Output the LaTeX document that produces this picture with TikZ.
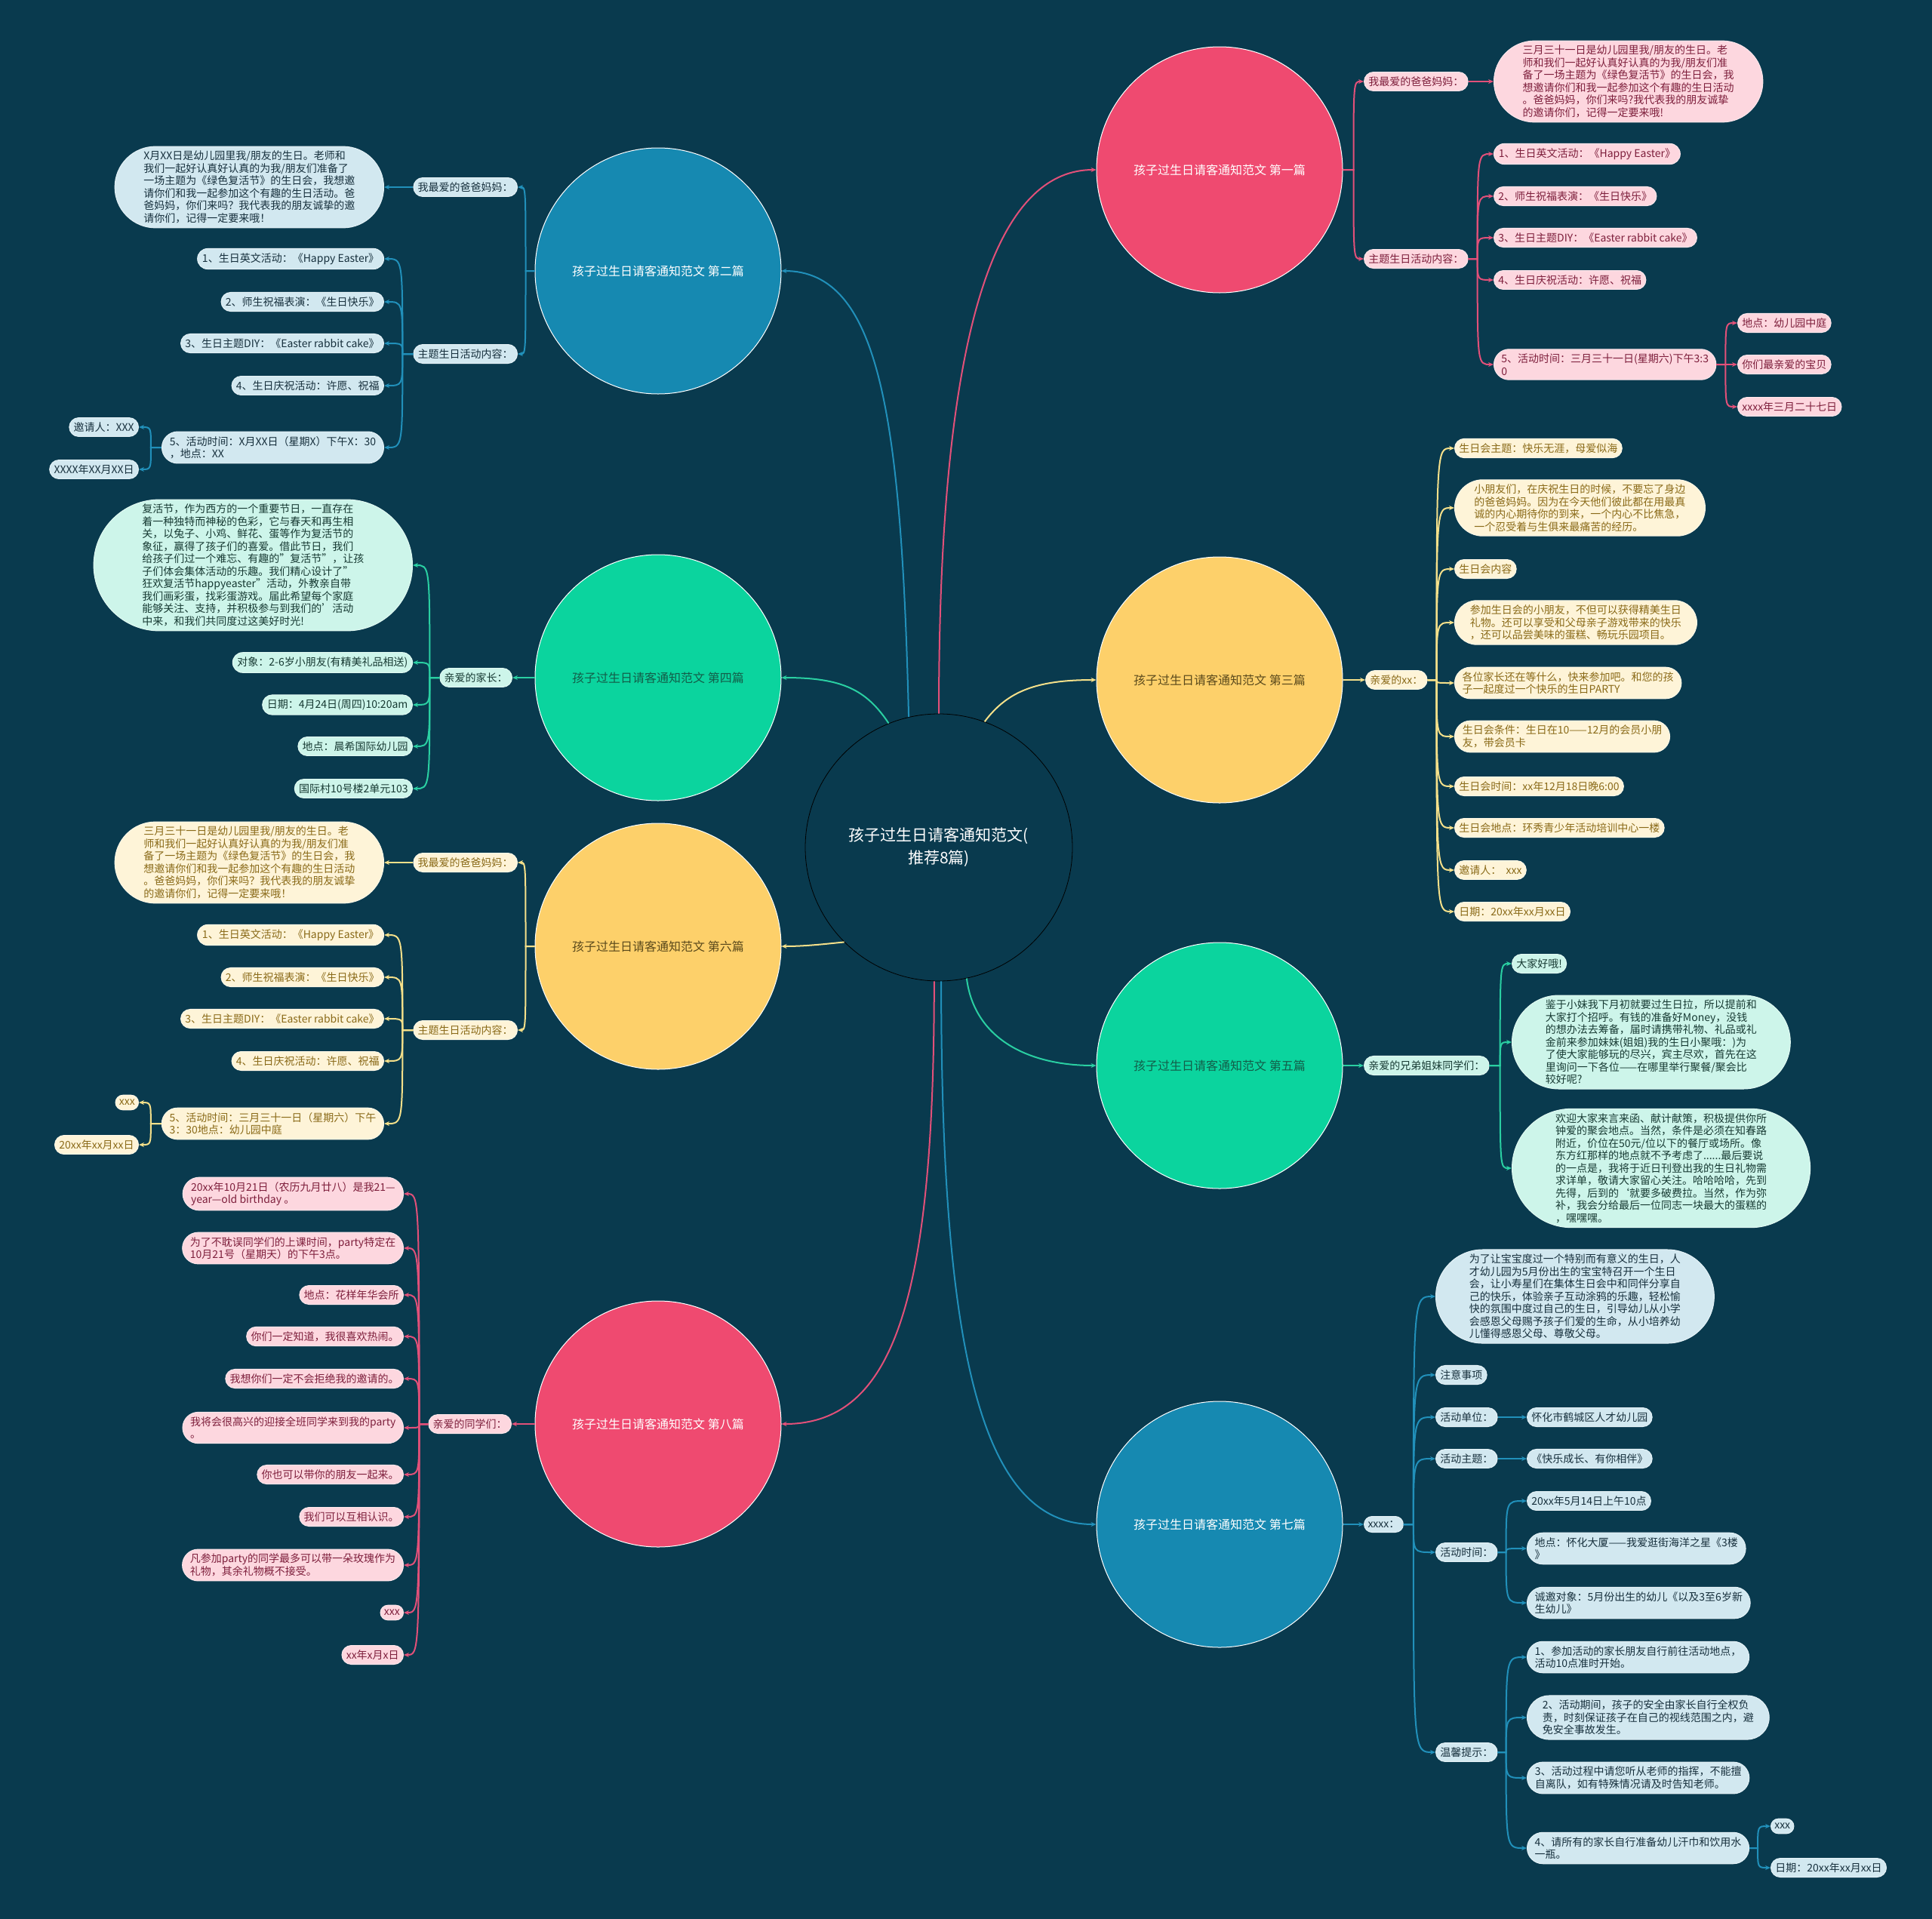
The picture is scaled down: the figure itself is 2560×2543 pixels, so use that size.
\documentclass[tikz,border=0pt]{standalone}
\usepackage{fontspec}
\setmainfont{Noto Sans CJK SC}
\usetikzlibrary{shapes.misc,arrows.meta}
\definecolor{bg}{HTML}{093A4E}
\definecolor{redcirc}{HTML}{EF4A70}
\definecolor{redfill}{HTML}{FDD7DF}
\definecolor{redtext}{HTML}{7E1F3C}
\definecolor{redline}{HTML}{E25079}
\definecolor{blucirc}{HTML}{1689B1}
\definecolor{blufill}{HTML}{D2E8F0}
\definecolor{blutext}{HTML}{17303D}
\definecolor{bluline}{HTML}{2190BA}
\definecolor{yelcirc}{HTML}{FDD06A}
\definecolor{yelfill}{HTML}{FEF4D8}
\definecolor{yeltext}{HTML}{8A6A18}
\definecolor{yelline}{HTML}{F5E08A}
\definecolor{yelctext}{HTML}{5B4A1C}
\definecolor{grncirc}{HTML}{0BD49E}
\definecolor{grnfill}{HTML}{CDF5EA}
\definecolor{grntext}{HTML}{173A33}
\definecolor{grnline}{HTML}{2ACFA2}
\definecolor{grnctext}{HTML}{135E49}
\newcommand\bxf{\fontsize{14}{16.5}\selectfont}
\newcommand\cxf{\fontsize{16}{19}\selectfont}
\newcommand\rxf{\fontsize{21}{30}\selectfont}
\newcommand\fan[4]{\foreach \tg in {#4}{\draw[#1] (#2) -- (#3) .. controls (#3 |- \tg) .. (\tg);}}
\tikzset{
  >={Stealth[length=7pt,width=6pt]},
  box/.style={rounded rectangle, inner xsep=4pt, inner ysep=6pt, font=\bxf, align=left, line width=1pt},
  wide/.style={inner xsep=9pt},
  redbx/.style={box, fill=redfill, draw=redfill!60!white, text=redtext},
  blubx/.style={box, fill=blufill, draw=blufill!60!white, text=blutext},
  yelbx/.style={box, fill=yelfill, draw=yelfill!60!white, text=yeltext},
  grnbx/.style={box, fill=grnfill, draw=grnfill!60!white, text=grntext},
  bcirc/.style={circle, minimum size=326pt, inner sep=0pt, draw=white, line width=1pt, font=\cxf},
  redc/.style={bcirc, fill=redcirc, text=white},
  bluc/.style={bcirc, fill=blucirc, text=white},
  yelc/.style={bcirc, fill=yelcirc, text=yelctext},
  grnc/.style={bcirc, fill=grncirc, text=grnctext},
  rootc/.style={circle, minimum size=354pt, inner sep=0pt, draw=black, line width=0.8pt, fill=bg, text=white, font=\rxf, align=center},
  redln/.style={draw=redline, line width=2pt, ->},
  bluln/.style={draw=bluline, line width=2pt, ->},
  yelln/.style={draw=yelline, line width=2pt, ->},
  grnln/.style={draw=grnline, line width=2pt, ->},
}
\begin{document}
\begin{tikzpicture}[x=1pt,y=-1pt]
\fill[bg] (0,0) rectangle (2560,2543);
\useasboundingbox (0,0) rectangle (2560,2543);

% root and main circles
\node[rootc] (root) at (1244,1123) {孩子过生日请客通知范文(\\推荐8篇)};
\node[redc] (b1) at (1616,225) {孩子过生日请客通知范文 第一篇};
\node[bluc] (b2) at (872,359) {孩子过生日请客通知范文 第二篇};
\node[yelc] (b3) at (1616,901) {孩子过生日请客通知范文 第三篇};
\node[grnc] (b4) at (872,898) {孩子过生日请客通知范文 第四篇};
\node[grnc] (b5) at (1616,1412) {孩子过生日请客通知范文 第五篇};
\node[yelc] (b6) at (872,1254) {孩子过生日请客通知范文 第六篇};
\node[bluc] (b7) at (1616,2020) {孩子过生日请客通知范文 第七篇};
\node[redc] (b8) at (872,1887) {孩子过生日请客通知范文 第八篇};

\draw[redln] (root.90) .. controls +(0,-450) and +(-150,0) .. (b1.west);
\draw[bluln] (root.103) .. controls +(-10,-400) and +(130,0) .. (b2.east);
\draw[grnln] (root.112) .. controls +(-30,-45) and +(80,0) .. (b4.east);
\draw[yelln] (root.70) .. controls +(30,-40) and +(-80,0) .. (b3.west);
\draw[yelln] (root.225) .. controls +(-30,3) and +(30,0) .. (b6.east);
\draw[grnln] (root.282) .. controls +(10,80) and +(-90,0) .. (b5.west);
\draw[bluln] (root.271) .. controls +(0,500) and +(-150,0) .. (b7.west);
\draw[redln] (root.268) .. controls +(0,420) and +(150,0) .. (b8.east);

% ---------- Branch 1 ----------
\node[redbx,anchor=west] (n1a) at (1807,108) {我最爱的爸爸妈妈：};
\node[redbx,wide,anchor=west] (t1) at (1979,108) {三月三十一日是幼儿园里我/朋友的生日。老\\师和我们一起好认真好认真的为我/朋友们准\\备了一场主题为《绿色复活节》的生日会，我\\想邀请你们和我一起参加这个有趣的生日活动\\。爸爸妈妈，你们来吗?我代表我的朋友诚挚\\的邀请你们，记得一定要来哦!};
\node[redbx,anchor=west] (n1b) at (1807,343) {主题生日活动内容：};
\node[redbx,anchor=west] (n1b1) at (1979,204) {1、生日英文活动：《Happy Easter》};
\node[redbx,anchor=west] (n1b2) at (1979,260) {2、师生祝福表演：《生日快乐》};
\node[redbx,anchor=west] (n1b3) at (1979,315) {3、生日主题DIY：《Easter rabbit cake》};
\node[redbx,anchor=west] (n1b4) at (1979,371) {4、生日庆祝活动：许愿、祝福};
\node[redbx,anchor=west] (n1b5) at (1979,483) {5、活动时间：三月三十一日(星期六)下午3:3\\0};
\node[redbx,anchor=west] (n1c1) at (2302,428) {地点：幼儿园中庭};
\node[redbx,anchor=west] (n1c2) at (2302,483) {你们最亲爱的宝贝};
\node[redbx,anchor=west] (n1c3) at (2302,539) {xxxx年三月二十七日};
\path (b1.east) ++(14,0) coordinate (s1);
\fan{redln}{b1.east}{s1}{n1a.west,n1b.west}
\draw[redln] (n1a.east) -- (t1.west);
\path (n1b.east) ++(12,0) coordinate (s1b);
\fan{redln}{n1b.east}{s1b}{n1b1.west,n1b2.west,n1b3.west,n1b4.west,n1b5.west}
\path (n1b5.east) ++(12,0) coordinate (s1c);
\fan{redln}{n1b5.east}{s1c}{n1c1.west,n1c2.west,n1c3.west}

% ---------- Branch 2 ----------
\node[blubx,anchor=east] (n2a) at (686,248) {我最爱的爸爸妈妈：};
\node[blubx,wide,anchor=east] (t2) at (509,248) {X月XX日是幼儿园里我/朋友的生日。老师和\\我们一起好认真好认真的为我/朋友们准备了\\一场主题为《绿色复活节》的生日会，我想邀\\请你们和我一起参加这个有趣的生日活动。爸\\爸妈妈，你们来吗？我代表我的朋友诚挚的邀\\请你们，记得一定要来哦！};
\node[blubx,anchor=east] (n2b) at (686,469) {主题生日活动内容：};
\node[blubx,anchor=east] (n2b1) at (509,343) {1、生日英文活动：《Happy Easter》};
\node[blubx,anchor=east] (n2b2) at (509,400) {2、师生祝福表演：《生日快乐》};
\node[blubx,anchor=east] (n2b3) at (509,455) {3、生日主题DIY：《Easter rabbit cake》};
\node[blubx,anchor=east] (n2b4) at (509,511) {4、生日庆祝活动：许愿、祝福};
\node[blubx,anchor=east] (n2b5) at (509,593) {5、活动时间：X月XX日（星期X）下午X：30\\，地点：XX};
\node[blubx,anchor=east] (n2c1) at (184,566) {邀请人：XXX};
\node[blubx,anchor=east] (n2c2) at (184,622) {XXXX年XX月XX日};
\path (b2.west) ++(-12,0) coordinate (s2);
\fan{bluln}{b2.west}{s2}{n2a.east,n2b.east}
\draw[bluln] (n2a.west) -- (t2.east);
\path (n2b.west) ++(-14,0) coordinate (s2b);
\fan{bluln}{n2b.west}{s2b}{n2b1.east,n2b2.east,n2b3.east,n2b4.east,n2b5.east}
\path (n2b5.west) ++(-14,0) coordinate (s2c);
\fan{bluln}{n2b5.west}{s2c}{n2c1.east,n2c2.east}

% ---------- Branch 3 ----------
\node[yelbx,anchor=west] (n3) at (1809,901) {亲爱的xx：};
\node[yelbx,anchor=west] (n3a) at (1927,594) {生日会主题：快乐无涯，母爱似海};
\node[yelbx,wide,anchor=west] (n3b) at (1927,673) {小朋友们，在庆祝生日的时候，不要忘了身边\\的爸爸妈妈。因为在今天他们彼此都在用最真\\诚的内心期待你的到来，一个内心不比焦急，\\一个忍受着与生俱来最痛苦的经历。};
\node[yelbx,anchor=west] (n3c) at (1927,754) {生日会内容};
\node[yelbx,wide,anchor=west] (n3d) at (1927,825) {参加生日会的小朋友，不但可以获得精美生日\\礼物。还可以享受和父母亲子游戏带来的快乐\\，还可以品尝美味的蛋糕、畅玩乐园项目。};
\node[yelbx,anchor=west] (n3e) at (1927,905) {各位家长还在等什么，快来参加吧。和您的孩\\子一起度过一个快乐的生日PARTY};
\node[yelbx,anchor=west] (n3f) at (1927,976) {生日会条件：生日在10——12月的会员小朋\\友，带会员卡};
\node[yelbx,anchor=west] (n3g) at (1927,1042) {生日会时间：xx年12月18日晚6:00};
\node[yelbx,anchor=west] (n3h) at (1927,1097) {生日会地点：环秀青少年活动培训中心一楼};
\node[yelbx,anchor=west] (n3i) at (1927,1153) {邀请人：\ \ xxx};
\node[yelbx,anchor=west] (n3j) at (1927,1208) {日期：20xx年xx月xx日};
\draw[yelln] (b3.east) -- (n3.west);
\path (n3.east) ++(12,0) coordinate (s3);
\fan{yelln}{n3.east}{s3}{n3a.west,n3b.west,n3c.west,n3d.west,n3e.west,n3f.west,n3g.west,n3h.west,n3i.west,n3j.west}

% ---------- Branch 4 ----------
\node[grnbx,anchor=east] (n4) at (679,898) {亲爱的家长：};
\node[grnbx,wide,anchor=east] (t4) at (547,749) {复活节，作为西方的一个重要节日，一直存在\\着一种独特而神秘的色彩，它与春天和再生相\\关，以兔子、小鸡、鲜花、蛋等作为复活节的\\象征，赢得了孩子们的喜爱。借此节日，我们\\给孩子们过一个难忘、有趣的"复活节"，让孩\\子们体会集体活动的乐趣。我们精心设计了"\\狂欢复活节happyeaster"活动，外教亲自带\\我们画彩蛋，找彩蛋游戏。届此希望每个家庭\\能够关注、支持，并积极参与到我们的'活动\\中来，和我们共同度过这美好时光!};
\node[grnbx,anchor=east] (n4b) at (547,878) {对象：2-6岁小朋友(有精美礼品相送)};
\node[grnbx,anchor=east] (n4c) at (547,934) {日期：4月24日(周四)10:20am};
\node[grnbx,anchor=east] (n4d) at (547,989) {地点：晨希国际幼儿园};
\node[grnbx,anchor=east] (n4e) at (547,1045) {国际村10号楼2单元103};
\draw[grnln] (b4.west) -- (n4.east);
\path (n4.west) ++(-13,0) coordinate (s4);
\fan{grnln}{n4.west}{s4}{t4.east,n4b.east,n4c.east,n4d.east,n4e.east}

% ---------- Branch 5 ----------
\node[grnbx,anchor=west] (n5) at (1807,1412) {亲爱的兄弟姐妹同学们：};
\node[grnbx,anchor=west] (n5a) at (2003,1277) {大家好哦!};
\node[grnbx,wide,anchor=west] (t5a) at (2003,1381) {鉴于小妹我下月初就要过生日拉，所以提前和\\大家打个招呼。有钱的准备好Money，没钱\\的想办法去筹备，届时请携带礼物、礼品或礼\\金前来参加妹妹(姐姐)我的生日小聚哦：)为\\了使大家能够玩的尽兴，宾主尽欢，首先在这\\里询问一下各位——在哪里举行聚餐/聚会比\\较好呢?};
\node[grnbx,wide,anchor=west] (t5b) at (2003,1548) {欢迎大家来言来函、献计献策，积极提供你所\\钟爱的聚会地点。当然，条件是必须在知春路\\附近，价位在50元/位以下的餐厅或场所。像\\东方红那样的地点就不予考虑了......最后要说\\的一点是，我将于近日刊登出我的生日礼物需\\求详单，敬请大家留心关注。哈哈哈哈，先到\\先得，后到的`就要多破费拉。当然，作为弥\\补，我会分给最后一位同志一块最大的蛋糕的\\，嘿嘿嘿。};
\draw[grnln] (b5.east) -- (n5.west);
\path (n5.east) ++(14,0) coordinate (s5);
\fan{grnln}{n5.east}{s5}{n5a.west,t5a.west,t5b.west}

% ---------- Branch 6 ----------
\node[yelbx,anchor=east] (n6a) at (686,1143) {我最爱的爸爸妈妈：};
\node[yelbx,wide,anchor=east] (t6) at (509,1143) {三月三十一日是幼儿园里我/朋友的生日。老\\师和我们一起好认真好认真的为我/朋友们准\\备了一场主题为《绿色复活节》的生日会，我\\想邀请你们和我一起参加这个有趣的生日活动\\。爸爸妈妈，你们来吗？我代表我的朋友诚挚\\的邀请你们，记得一定要来哦！};
\node[yelbx,anchor=east] (n6b) at (686,1365) {主题生日活动内容：};
\node[yelbx,anchor=east] (n6b1) at (509,1239) {1、生日英文活动：《Happy Easter》};
\node[yelbx,anchor=east] (n6b2) at (509,1295) {2、师生祝福表演：《生日快乐》};
\node[yelbx,anchor=east] (n6b3) at (509,1350) {3、生日主题DIY：《Easter rabbit cake》};
\node[yelbx,anchor=east] (n6b4) at (509,1406) {4、生日庆祝活动：许愿、祝福};
\node[yelbx,anchor=east] (n6b5) at (509,1489) {5、活动时间：三月三十一日（星期六）下午\\3：30地点：幼儿园中庭};
\node[yelbx,anchor=east] (n6c1) at (184,1461) {xxx};
\node[yelbx,anchor=east] (n6c2) at (184,1517) {20xx年xx月xx日};
\path (b6.west) ++(-12,0) coordinate (s6);
\fan{yelln}{b6.west}{s6}{n6a.east,n6b.east}
\draw[yelln] (n6a.west) -- (t6.east);
\path (n6b.west) ++(-14,0) coordinate (s6b);
\fan{yelln}{n6b.west}{s6b}{n6b1.east,n6b2.east,n6b3.east,n6b4.east,n6b5.east}
\path (n6b5.west) ++(-14,0) coordinate (s6c);
\fan{yelln}{n6b5.west}{s6c}{n6c1.east,n6c2.east}

% ---------- Branch 7 ----------
\node[blubx,anchor=west] (n7) at (1807,2020) {xxxx：};
\node[blubx,wide,anchor=west] (t7) at (1902,1718) {为了让宝宝度过一个特别而有意义的生日，人\\才幼儿园为5月份出生的宝宝特召开一个生日\\会，让小寿星们在集体生日会中和同伴分享自\\己的快乐，体验亲子互动涂鸦的乐趣，轻松愉\\快的氛围中度过自己的生日，引导幼儿从小学\\会感恩父母赐予孩子们爱的生命，从小培养幼\\儿懂得感恩父母、尊敬父母。};
\node[blubx,anchor=west] (n7b) at (1902,1822) {注意事项};
\node[blubx,anchor=west] (n7c) at (1902,1878) {活动单位：};
\node[blubx,anchor=west] (n7d) at (1902,1933) {活动主题：};
\node[blubx,anchor=west] (n7e) at (1902,2057) {活动时间：};
\node[blubx,anchor=west] (n7f) at (1902,2322) {温馨提示：};
\node[blubx,anchor=west] (n7c1) at (2023,1878) {怀化市鹤城区人才幼儿园};
\node[blubx,anchor=west] (n7d1) at (2023,1933) {《快乐成长、有你相伴》};
\node[blubx,anchor=west] (n7e1) at (2023,1989) {20xx年5月14日上午10点};
\node[blubx,anchor=west] (n7e2) at (2023,2052) {地点：怀化大厦——我爱逛街海洋之星《3楼\\》};
\node[blubx,anchor=west] (n7e3) at (2023,2124) {诚邀对象：5月份出生的幼儿《以及3至6岁新\\生幼儿》};
\node[blubx,anchor=west] (n7f1) at (2023,2196) {1、参加活动的家长朋友自行前往活动地点，\\活动10点准时开始。};
\node[blubx,wide,anchor=west] (n7f2) at (2023,2276) {2、活动期间，孩子的安全由家长自行全权负\\责，时刻保证孩子在自己的视线范围之内，避\\免安全事故发生。};
\node[blubx,anchor=west] (n7f3) at (2023,2356) {3、活动过程中请您听从老师的指挥，不能擅\\自离队，如有特殊情况请及时告知老师。};
\node[blubx,anchor=west] (n7f4) at (2023,2449) {4、请所有的家长自行准备幼儿汗巾和饮用水\\一瓶。};
\node[blubx,anchor=west] (n7g1) at (2346,2420) {xxx};
\node[blubx,anchor=west] (n7g2) at (2346,2475) {日期：20xx年xx月xx日};
\draw[bluln] (b7.east) -- (n7.west);
\path (n7.east) ++(13,0) coordinate (s7);
\fan{bluln}{n7.east}{s7}{t7.west,n7b.west,n7c.west,n7d.west,n7e.west,n7f.west}
\draw[bluln] (n7c.east) -- (n7c1.west);
\draw[bluln] (n7d.east) -- (n7d1.west);
\path (n7e.east) ++(11,0) coordinate (s7e);
\fan{bluln}{n7e.east}{s7e}{n7e1.west,n7e2.west,n7e3.west}
\path (n7f.east) ++(11,0) coordinate (s7f);
\fan{bluln}{n7f.east}{s7f}{n7f1.west,n7f2.west,n7f3.west,n7f4.west}
\path (n7f4.east) ++(11,0) coordinate (s7g);
\fan{bluln}{n7f4.east}{s7g}{n7g1.west,n7g2.west}

% ---------- Branch 8 ----------
\node[redbx,anchor=east] (n8) at (678,1887) {亲爱的同学们：};
\node[redbx,anchor=east] (n8a) at (535,1582) {20xx年10月21日（农历九月廿八）是我21—\\year—old birthday 。};
\node[redbx,anchor=east] (n8b) at (535,1654) {为了不耽误同学们的上课时间，party特定在\\10月21号（星期天）的下午3点。};
\node[redbx,anchor=east] (n8c) at (535,1716) {地点：花样年华会所};
\node[redbx,anchor=east] (n8d) at (535,1771) {你们一定知道，我很喜欢热闹。};
\node[redbx,anchor=east] (n8e) at (535,1827) {我想你们一定不会拒绝我的邀请的。};
\node[redbx,anchor=east] (n8f) at (535,1892) {我将会很高兴的迎接全班同学来到我的party\\。};
\node[redbx,anchor=east] (n8g) at (535,1954) {你也可以带你的朋友一起来。};
\node[redbx,anchor=east] (n8h) at (535,2010) {我们可以互相认识。};
\node[redbx,anchor=east] (n8i) at (535,2074) {凡参加party的同学最多可以带一朵玫瑰作为\\礼物，其余礼物概不接受。};
\node[redbx,anchor=east] (n8j) at (535,2137) {xxx};
\node[redbx,anchor=east] (n8k) at (535,2193) {xx年x月x日};
\draw[redln] (b8.west) -- (n8.east);
\path (n8.west) ++(-12,0) coordinate (s8);
\fan{redln}{n8.west}{s8}{n8a.east,n8b.east,n8c.east,n8d.east,n8e.east,n8f.east,n8g.east,n8h.east,n8i.east,n8j.east,n8k.east}
\end{tikzpicture}
\end{document}
